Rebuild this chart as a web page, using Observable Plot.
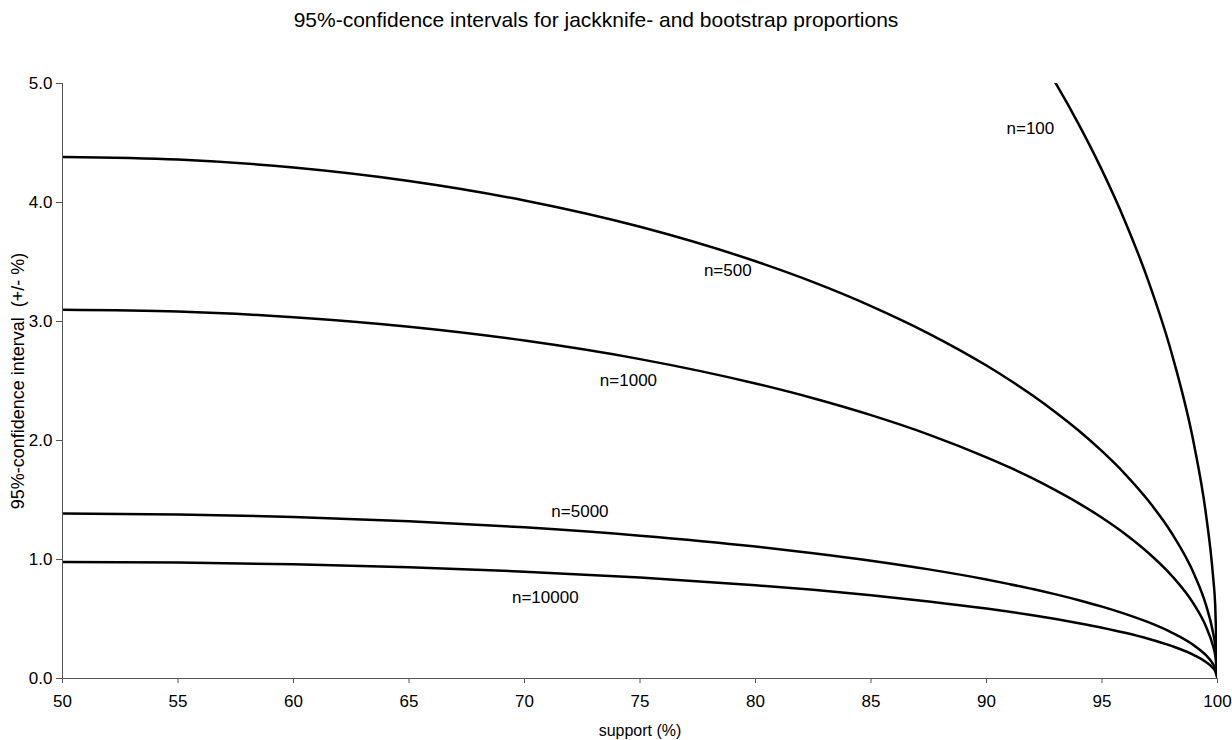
<!DOCTYPE html>
<html>
<head>
<meta charset="utf-8">
<script src="https://cdn.jsdelivr.net/npm/d3@7"></script>
<script src="https://cdn.jsdelivr.net/npm/@observablehq/plot@0.6"></script>
<style>
  body { margin: 0; background: #fff; font-family: "Liberation Sans", Arial, sans-serif; }
  #title { height: 40px; line-height: 40px; text-align: center; font-size: 21px; color: #000; width: 1192px; padding-right: 40px; }
</style>
</head>
<body>
<div id="title">95%-confidence intervals for jackknife- and bootstrap proportions</div>
<div id="chart"></div>
<script>
const support = [50, 55, 60, 65, 70, 75, 80, 82.5, 85, 87.5, 90, 91, 92, 93, 94, 95, 96, 97, 98, 99, 99.5, 99.8, 99.9, 100];
const n100   = [9.800, 9.751, 9.602, 9.349, 8.982, 8.487, 7.840, 7.447, 6.999, 6.482, 5.880, 5.609, 5.317, 5.001, 4.655, 4.272, 3.841, 3.344, 2.744, 1.950, 1.382, 0.876, 0.620, 0.0];
const n500   = [4.383, 4.361, 4.294, 4.181, 4.017, 3.796, 3.506, 3.331, 3.130, 2.899, 2.630, 2.508, 2.378, 2.236, 2.082, 1.910, 1.718, 1.495, 1.227, 0.872, 0.618, 0.392, 0.277, 0.0];
const n1000  = [3.099, 3.084, 3.036, 2.956, 2.840, 2.684, 2.479, 2.355, 2.213, 2.050, 1.859, 1.774, 1.682, 1.581, 1.472, 1.351, 1.215, 1.057, 0.868, 0.617, 0.437, 0.277, 0.196, 0.0];
const n5000  = [1.386, 1.379, 1.358, 1.322, 1.270, 1.200, 1.109, 1.053, 0.990, 0.917, 0.832, 0.793, 0.752, 0.707, 0.658, 0.604, 0.543, 0.473, 0.388, 0.276, 0.196, 0.124, 0.088, 0.0];
const n10000 = [0.980, 0.975, 0.960, 0.935, 0.898, 0.849, 0.784, 0.745, 0.700, 0.648, 0.588, 0.561, 0.532, 0.500, 0.465, 0.427, 0.384, 0.334, 0.274, 0.195, 0.138, 0.088, 0.062, 0.0];
const seriesNames = ["n=100", "n=500", "n=1000", "n=5000", "n=10000"];
const seriesValues = [n100, n500, n1000, n5000, n10000];
const labelX = [91.9, 78.8, 74.5, 72.4, 70.9];
const labelY = [4.62, 3.43, 2.50, 1.40, 0.68];
const xTicks = [50, 55, 60, 65, 70, 75, 80, 85, 90, 95, 100];
const yTicks = [0, 1, 2, 3, 4, 5];

const rows = [];
seriesNames.forEach((name, i) => {
  support.forEach((s, j) => rows.push({series: name, support: s, ci: seriesValues[i][j]}));
});
const labels = seriesNames.map((name, i) => ({name, x: labelX[i], y: labelY[i]}));

const chart = Plot.plot({
  width: 1232,
  height: 700,
  marginLeft: 62,
  marginRight: 15,
  marginTop: 43,
  marginBottom: 62,
  style: { fontFamily: "Liberation Sans, Arial, sans-serif", fontSize: "17px", color: "#000", background: "#fff" },
  x: { domain: [50, 100], ticks: xTicks, tickFormat: d => String(d), label: null },
  y: { domain: [0, 5], ticks: yTicks, tickFormat: d => d.toFixed(1), label: null },
  marks: [
    Plot.line(rows, { x: "support", y: "ci", z: "series", stroke: "#000", strokeWidth: 2.5, curve: "monotone-x", clip: true }),
    Plot.ruleX([50], { stroke: "#555", strokeWidth: 1 }),
    Plot.ruleY([0], { stroke: "#555", strokeWidth: 1 }),
    Plot.axisX({ ticks: xTicks, tickFormat: d => String(d), tickSize: 5, tickPadding: 11, stroke: "#555", fill: "#000", fontSize: 17, label: null }),
    Plot.axisY({ ticks: yTicks, tickFormat: d => d.toFixed(1), tickSize: 6, tickPadding: 4, stroke: "#555", fill: "#000", fontSize: 17, label: null }),
    Plot.text(labels, { x: "x", y: "y", text: "name", fill: "#000", fontSize: 17 }),
    Plot.text(["support (%)"], { frameAnchor: "bottom", dy: 57, textAnchor: "middle", fill: "#000", fontSize: 16 }),
    Plot.text(["95%-confidence interval  (+/- %)"], { frameAnchor: "left", dx: -44, textAnchor: "middle", rotate: -90, fill: "#000", fontSize: 18 })
  ]
});
document.getElementById("chart").appendChild(chart);
</script>
</body>
</html>
